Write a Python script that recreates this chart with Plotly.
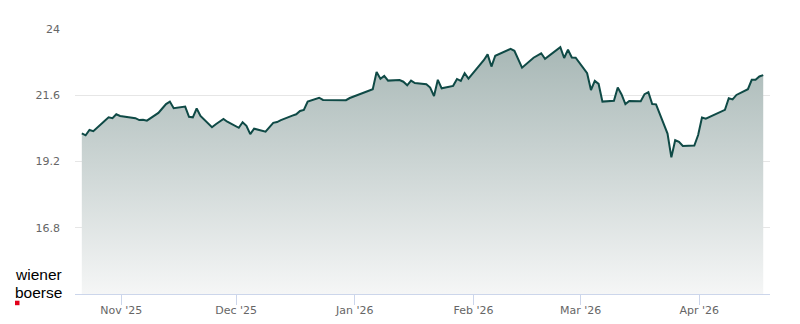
import plotly.graph_objects as go

dates = [
    "2025-10-21", "2025-10-22", "2025-10-23", "2025-10-24", "2025-10-27", "2025-10-28", "2025-10-29", "2025-10-30", "2025-10-31",
    "2025-11-03", "2025-11-04", "2025-11-05", "2025-11-06", "2025-11-07",
    "2025-11-10", "2025-11-11", "2025-11-12", "2025-11-13", "2025-11-14",
    "2025-11-17", "2025-11-18", "2025-11-19", "2025-11-20", "2025-11-21",
    "2025-11-24", "2025-11-25", "2025-11-26", "2025-11-27", "2025-11-28",
    "2025-12-01", "2025-12-02", "2025-12-03", "2025-12-04", "2025-12-05",
    "2025-12-08", "2025-12-09", "2025-12-10", "2025-12-11", "2025-12-12",
    "2025-12-15", "2025-12-16", "2025-12-17", "2025-12-18", "2025-12-19",
    "2025-12-22", "2025-12-23", "2025-12-29", "2025-12-30", "2026-01-02",
    "2026-01-05", "2026-01-06", "2026-01-07", "2026-01-08", "2026-01-09",
    "2026-01-12", "2026-01-13", "2026-01-14", "2026-01-15", "2026-01-16",
    "2026-01-19", "2026-01-20", "2026-01-21", "2026-01-22", "2026-01-23",
    "2026-01-26", "2026-01-27", "2026-01-28", "2026-01-29", "2026-01-30",
    "2026-02-02", "2026-02-03", "2026-02-04", "2026-02-05", "2026-02-06",
    "2026-02-09", "2026-02-10", "2026-02-11", "2026-02-12", "2026-02-13",
    "2026-02-16", "2026-02-17", "2026-02-18", "2026-02-19", "2026-02-20",
    "2026-02-23", "2026-02-24", "2026-02-25", "2026-02-26", "2026-02-27",
    "2026-03-02", "2026-03-03", "2026-03-04", "2026-03-05", "2026-03-06",
    "2026-03-09", "2026-03-10", "2026-03-11", "2026-03-12", "2026-03-13",
    "2026-03-16", "2026-03-17", "2026-03-18", "2026-03-19", "2026-03-20",
    "2026-03-23", "2026-03-24", "2026-03-25", "2026-03-26", "2026-03-27",
    "2026-03-30", "2026-03-31", "2026-04-01", "2026-04-02",
    "2026-04-07", "2026-04-08", "2026-04-09", "2026-04-10",
    "2026-04-13", "2026-04-14", "2026-04-15", "2026-04-16", "2026-04-17",
]

prices = [
    20.22, 20.15, 20.34, 20.30, 20.68, 20.80, 20.77, 20.91, 20.85,
    20.81, 20.77, 20.70, 20.71, 20.68,
    20.96, 21.12, 21.28, 21.37, 21.13,
    21.19, 20.82, 20.80, 21.12, 20.85,
    20.44, 20.55, 20.65, 20.74, 20.64,
    20.42, 20.62, 20.49, 20.19, 20.39,
    20.28, 20.43, 20.60, 20.63, 20.70,
    20.86, 20.91, 21.03, 21.07, 21.37,
    21.51, 21.43, 21.42, 21.50, 21.66,
    21.82, 22.44, 22.20, 22.30, 22.13,
    22.15, 22.09, 21.96, 22.13, 22.04,
    22.00, 21.88, 21.57, 22.16, 21.85,
    21.94, 22.19, 22.12, 22.40, 22.20,
    22.68, 22.87, 23.08, 22.64, 23.03,
    23.21, 23.28, 23.21, 22.90, 22.60,
    22.96, 23.05, 23.12, 22.92, 23.03,
    23.34, 22.95, 23.25, 22.97, 22.96,
    22.40, 21.79, 22.12, 22.01, 21.37,
    21.40, 21.88, 21.63, 21.28, 21.39,
    21.38, 21.64, 21.71, 21.28, 21.27,
    20.21, 19.35, 19.97, 19.91, 19.76,
    19.78, 20.16, 20.79, 20.75,
    21.07, 21.49, 21.45, 21.61,
    21.82, 22.16, 22.16, 22.28, 22.33,
]

close_time = " 16:30"
y_ticks = [16.8, 19.2, 21.6, 24]
y_tick_labels = ["16.8", "19.2", "21.6", "24"]
x_ticks = ["2025-11-01", "2025-12-01", "2026-01-01", "2026-02-01", "2026-03-01", "2026-04-01"]
x_tick_labels = ["Nov '25", "Dec '25", "Jan '26", "Feb '26", "Mar '26", "Apr '26"]

x = [d + close_time for d in dates]

fig = go.Figure()
fig.add_trace(go.Scatter(
    x=x, y=prices, mode="lines",
    line=dict(color="#0f4a46", width=2),
    fill="tozeroy",
    fillgradient=dict(type="vertical", start=14.4, stop=24,
                      colorscale=[[0, "#f5f6f6"], [1, "#a2b3b1"]]),
    hoverinfo="skip",
))

fig.update_layout(
    width=800, height=324,
    margin=dict(l=75, r=30, t=29, b=30, autoexpand=False),
    paper_bgcolor="white", plot_bgcolor="white",
    showlegend=False,
    font=dict(family="DejaVu Sans", size=11, color="#666666"),
    xaxis=dict(
        type="date", automargin=False,
        range=["2025-10-19 21:43", "2026-04-19 11:00"],
        tickvals=x_ticks, ticktext=x_tick_labels,
        showgrid=False, zeroline=False,
        showline=True, linecolor="#ccd6eb", linewidth=1,
        ticks="outside", ticklen=10, tickcolor="#ccd6eb", tickwidth=1,
        ticklabelstandoff=-4,
        tickfont=dict(size=11, color="#666666"),
    ),
    yaxis=dict(
        range=[14.4, 24], automargin=False,
        tickvals=y_ticks, ticktext=y_tick_labels,
        showgrid=True, gridcolor="#e6e6e6", gridwidth=1,
        zeroline=False, showline=False,
        ticklabelstandoff=14,
        tickfont=dict(size=11, color="#666666"),
    ),
)

# Logo
logo_x = (14 - 75) / 695
fig.add_annotation(x=logo_x, y=(294.3 - 274.8) / 265, xref="paper", yref="paper",
                   text="wiener", showarrow=False, xanchor="left", yanchor="middle",
                   borderpad=0,
                   font=dict(family="Liberation Sans", size=15.5, color="#000000"))
fig.add_annotation(x=logo_x, y=(294.3 - 292.3) / 265, xref="paper", yref="paper",
                   text="boerse", showarrow=False, xanchor="left", yanchor="middle",
                   borderpad=0,
                   font=dict(family="Liberation Sans", size=15.5, color="#000000"))
fig.add_shape(type="rect", xref="paper", yref="paper",
              x0=(15 - 75) / 695, x1=(19.5 - 75) / 695,
              y0=(294.3 - 305.5) / 265, y1=(294.3 - 301) / 265,
              fillcolor="#e2001a", line=dict(width=0))

fig.write_html("out.html")
